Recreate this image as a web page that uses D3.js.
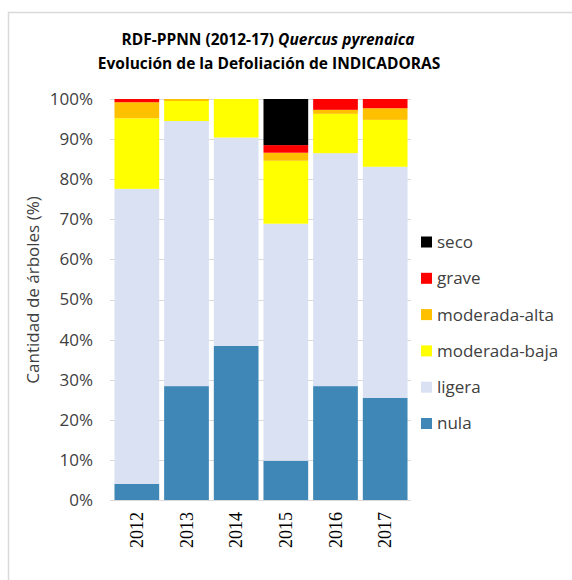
<!DOCTYPE html>
<html>
<head>
<meta charset="utf-8">
<script src="https://cdn.jsdelivr.net/npm/d3@7"></script>
<style>
  body { margin: 0; background: #fff; }
  svg { display: block; }
</style>
</head>
<body>
<svg width="572" height="580"></svg>
<script>
// data (percent of trees)
var years = ["2012", "2013", "2014", "2015", "2016", "2017"];
var nula = [4.0, 28.4, 38.4, 9.8, 28.4, 25.5];
var ligera = [73.6, 66.1, 52.0, 59.1, 58.1, 57.6];
var modBaja = [17.6, 5.0, 9.6, 15.7, 9.8, 11.7];
var modAlta = [4.0, 0.5, 0, 2.0, 1.0, 2.9];
var grave = [0.8, 0, 0, 1.9, 2.7, 2.3];
var seco = [0, 0, 0, 11.5, 0, 0];
var yTicks = [0, 10, 20, 30, 40, 50, 60, 70, 80, 90, 100];

var seriesNames = ["nula", "ligera", "moderada-baja", "moderada-alta", "grave", "seco"];
var seriesVals = [nula, ligera, modBaja, modAlta, grave, seco];
var colors = ["#3f87b6", "#d9e1f2", "#ffff00", "#ffc000", "#ff0000", "#000000"];

var rows = years.map(function(y, i) {
  var r = { year: y };
  seriesNames.forEach(function(s, j) { r[s] = seriesVals[j][i]; });
  return r;
});

var svg = d3.select("svg");

// chart frame
svg.append("path")
  .attr("d", "M8.5,580 L8.5,12.5 L572,12.5")
  .attr("fill", "none")
  .attr("stroke", "#d9d9d9")
  .attr("stroke-width", 1.5);

var x = d3.scaleBand()
  .domain(years)
  .range([112, 410])
  .paddingInner(0.1)
  .paddingOuter(0.05);

var y = d3.scaleLinear()
  .domain([0, 100])
  .range([500, 99]);

// gridlines
svg.append("g")
  .selectAll("line")
  .data(yTicks)
  .enter().append("line")
    .attr("x1", 110)
    .attr("x2", 411)
    .attr("y1", function(d) { return Math.round(y(d)) + 0.5; })
    .attr("y2", function(d) { return Math.round(y(d)) + 0.5; })
    .attr("stroke", "#d9d9d9")
    .attr("stroke-width", 1);

// y axis labels
var yAxis = svg.append("g")
  .attr("transform", "translate(110,0)")
  .call(d3.axisLeft(y).tickValues(yTicks).tickSize(0).tickPadding(17)
    .tickFormat(function(d) { return d + "%"; }));
yAxis.select(".domain").remove();
yAxis.selectAll("text")
  .attr("font-family", "'Open Sans', sans-serif")
  .attr("font-size", 17)
  .attr("fill", "#404040");

// stacked bars
var stack = d3.stack().keys(seriesNames);
var layers = stack(rows);

svg.append("g")
  .selectAll("g")
  .data(layers)
  .enter().append("g")
    .attr("fill", function(d, i) { return colors[i]; })
  .selectAll("rect")
  .data(function(d) { return d; })
  .enter().append("rect")
    .attr("x", function(d) { return x(d.data.year); })
    .attr("width", x.bandwidth())
    .attr("y", function(d) { return y(d[1]); })
    .attr("height", function(d) { return y(d[0]) - y(d[1]); });

// x axis labels (rotated)
var xAxis = svg.append("g")
  .attr("transform", "translate(0,500)")
  .call(d3.axisBottom(x).tickSize(0).tickPadding(0));
xAxis.select(".domain").remove();
xAxis.selectAll("text")
  .attr("font-family", "'Liberation Serif', serif")
  .attr("font-size", 18)
  .attr("fill", "#000")
  .attr("transform", "rotate(-90)")
  .attr("text-anchor", "end")
  .attr("x", -12)
  .attr("y", 0)
  .attr("dy", "0.35em");

// y axis title
svg.append("text")
  .attr("transform", "translate(39,290) rotate(-90)")
  .attr("text-anchor", "middle")
  .attr("font-family", "'Open Sans', sans-serif")
  .attr("font-size", 17)
  .attr("fill", "#404040")
  .text("Cantidad de árboles (%)");

// title
var title = svg.append("text")
  .attr("text-anchor", "middle")
  .attr("font-family", "'Open Sans', sans-serif")
  .attr("font-size", 15.5)
  .attr("font-weight", "bold")
  .attr("fill", "#000");
var t1 = title.append("tspan").attr("x", 268).attr("y", 45);
t1.append("tspan").text("RDF-PPNN (2012-17) ");
t1.append("tspan").attr("font-style", "italic").text("Quercus pyrenaica");
title.append("tspan").attr("x", 269).attr("y", 69).text("Evolución de la Defoliación de INDICADORAS");

// legend, top entry is the last series
var legendOrder = seriesNames.map(function(s, i) { return i; }).reverse();
var legend = svg.append("g")
  .selectAll("g")
  .data(legendOrder)
  .enter().append("g")
    .attr("transform", function(d, k) { return "translate(421," + (242 + k * 36.3) + ")"; });
legend.append("rect")
  .attr("x", 0)
  .attr("y", -5.5)
  .attr("width", 11)
  .attr("height", 11)
  .attr("fill", function(d) { return colors[d]; });
legend.append("text")
  .attr("x", 16)
  .attr("dy", "0.35em")
  .attr("font-family", "'Open Sans', sans-serif")
  .attr("font-size", 17)
  .attr("fill", "#404040")
  .text(function(d) { return seriesNames[d]; });
</script>
</body>
</html>
